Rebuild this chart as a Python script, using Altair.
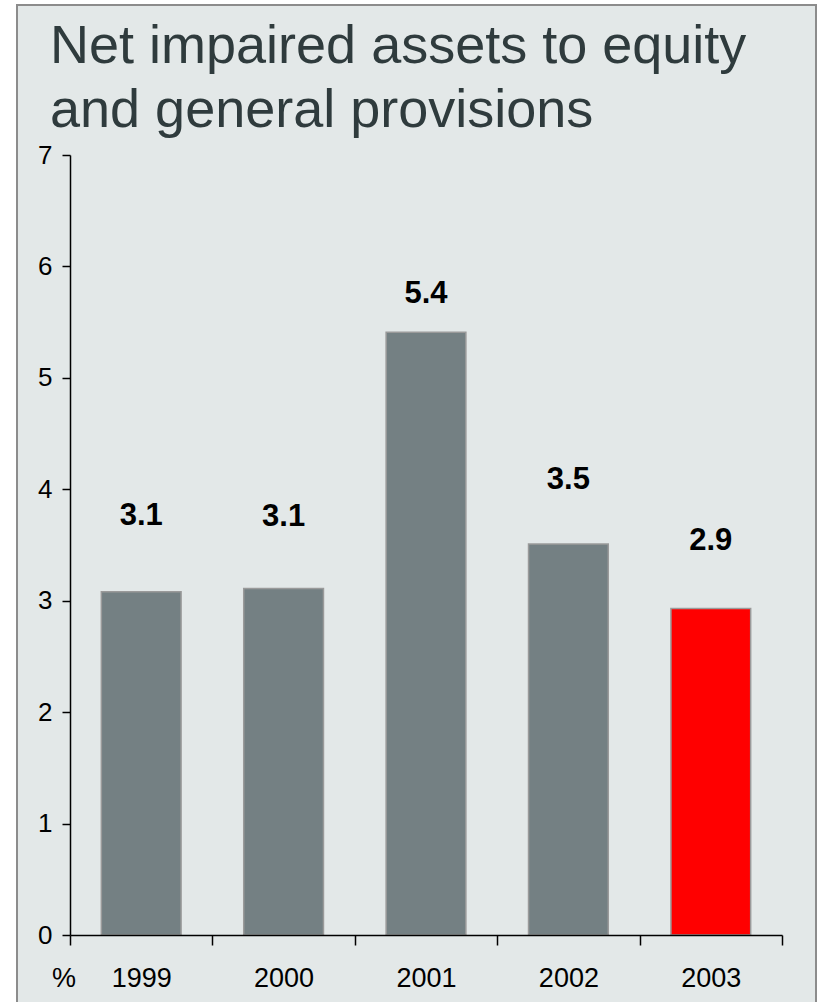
import altair as alt
import pandas as pd

years = ["1999", "2000", "2001", "2002", "2003"]
values = [3.08, 3.11, 5.41, 3.51, 2.93]
labels = ["3.1", "3.1", "5.4", "3.5", "2.9"]
label_at = [3.76, 3.75, 5.75, 4.08, 3.54]
current = ["past", "past", "past", "past", "current"]

title_lines = ["Net impaired assets to equity", "and general provisions"]
unit_label = "%"

FONT = "Liberation Sans"

df = pd.DataFrame({
    "year": years,
    "value": values,
    "label": labels,
    "label_at": label_at,
    "current": current,
})

frame = alt.Chart(pd.DataFrame({"k": [0]})).mark_rect(
    fill="#e3e8e8", stroke="#8c8c8c", strokeWidth=2
).encode(
    x=alt.value(-53), x2=alt.value(746), y=alt.value(-150), y2=alt.value(860)
)

x_enc = alt.X(
    "year:N", sort=years, title=None,
    scale=alt.Scale(paddingInner=0, paddingOuter=0),
    axis=alt.Axis(
        tickBand="extent", labelAngle=0, labelFontSize=27, labelFont=FONT,
        labelColor="black", tickSize=10, labelPadding=20, zindex=2,
        domainColor="black", tickColor="black", domainWidth=1.5, tickWidth=1.5,
    ),
)
y_enc = alt.Y(
    "value:Q", title=None,
    scale=alt.Scale(domain=[0, 7], nice=False),
    axis=alt.Axis(
        values=list(range(8)), format="d", grid=False, tickSize=8, labelPadding=10,
        zindex=2, labelFontSize=26, labelFont=FONT, labelColor="black",
        domainColor="black", tickColor="black", domainWidth=1.5, tickWidth=1.5,
    ),
)

bars = alt.Chart(df).mark_bar(
    stroke="#9a9a9a", strokeWidth=1.5, width=alt.RelativeBandSize(0.56)
).encode(
    x=x_enc,
    y=y_enc,
    color=alt.Color(
        "current:N",
        scale=alt.Scale(domain=["past", "current"], range=["#748083", "#ff0000"]),
        legend=None,
    ),
)

text = alt.Chart(df).mark_text(
    fontSize=31, fontWeight="bold", font=FONT, color="black", baseline="middle"
).encode(
    x=alt.X("year:N", sort=years),
    y=alt.Y("label_at:Q"),
    text="label:N",
)

pct = alt.Chart(pd.DataFrame({"t": [unit_label]})).mark_text(
    fontSize=27, font=FONT, color="black", align="center", baseline="alphabetic"
).encode(
    x=alt.value(-6), y=alt.value(832), text="t:N"
)

title = alt.Chart(pd.DataFrame({"k": [0]})).mark_text(
    text=title_lines, fontSize=54, lineHeight=64, font=FONT, color="#2f3b3d",
    align="left", baseline="alphabetic",
).encode(
    x=alt.value(-20), y=alt.value(-92)
)

chart = alt.layer(frame, bars, text, pct, title).properties(
    width=712,
    height=780,
    padding={"left": 70, "top": 155, "right": 39, "bottom": 67},
    autosize=alt.AutoSizeParams(type="none"),
    background="white",
).configure_view(stroke=None)

chart.save("out.html", embed_options={"renderer": "svg", "actions": False})
